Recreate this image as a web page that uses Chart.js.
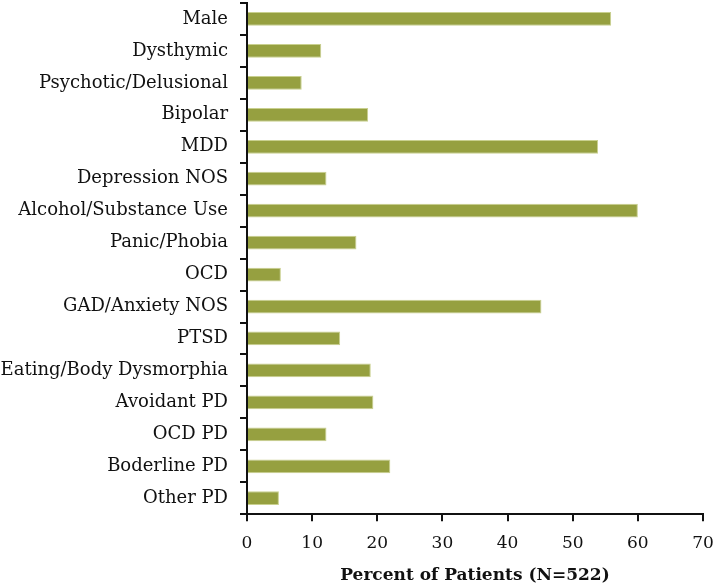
<!DOCTYPE html>
<html>
<head>
<meta charset="utf-8">
<script src="https://cdn.jsdelivr.net/npm/chart.js@4/dist/chart.umd.min.js"></script>
<style>
  body { margin: 0; background: #fff; }
  #wrap { width: 714px; height: 587px; }
</style>
</head>
<body>
<div id="wrap"><canvas id="diagChart"></canvas></div>
<script>
// categories, top to bottom
const categories = [
  'Male', 'Dysthymic', 'Psychotic/Delusional', 'Bipolar', 'MDD',
  'Depression NOS', 'Alcohol/Substance Use', 'Panic/Phobia', 'OCD',
  'GAD/Anxiety NOS', 'PTSD', 'Eating/Body Dysmorphia', 'Avoidant PD',
  'OCD PD', 'Boderline PD', 'Other PD'
];
// percent of patients
const percentValues = [
  55.9, 11.4, 8.4, 18.6, 53.9,
  12.2, 60.0, 16.8, 5.2,
  45.2, 14.3, 19.0, 19.4,
  12.2, 22.0, 4.9
];
const xTicks = [0, 10, 20, 30, 40, 50, 60, 70];

const serif = "'DejaVu Serif', 'Liberation Serif', serif";

const ctx = document.getElementById('diagChart').getContext('2d');
new Chart(ctx, {
  type: 'bar',
  data: {
    labels: categories,
    datasets: [{
      data: percentValues,
      backgroundColor: '#96a040',
      borderColor: '#c9d08f',
      borderWidth: 1,
      categoryPercentage: 1.0,
      barPercentage: 0.43
    }]
  },
  options: {
    indexAxis: 'y',
    responsive: true,
    maintainAspectRatio: false,
    animation: false,
    layout: { padding: { top: 3, right: 0, bottom: 0, left: 0 } },
    scales: {
      x: {
        min: 0,
        max: 70,
        afterBuildTicks: (s) => { s.ticks = xTicks.map(v => ({ value: v })); },
        afterFit: (s) => { s.paddingLeft = 0; s.paddingRight = 11; },
        grid: {
          drawOnChartArea: false,
          drawTicks: true,
          tickLength: 7,
          color: '#111',
          lineWidth: 2
        },
        border: { color: '#111', width: 2 },
        ticks: {
          color: '#111',
          padding: 12,
          maxRotation: 0,
          font: { family: serif, size: 17 }
        },
        title: {
          display: true,
          text: 'Percent of Patients (N=522)',
          color: '#111',
          padding: { top: 0, bottom: 1 },
          font: { family: serif, size: 17, weight: 'bold' }
        }
      },
      y: {
        afterFit: (s) => { s.width = 247; s.paddingTop = 0; s.paddingBottom = 0; },
        grid: {
          offset: true,
          drawOnChartArea: false,
          drawTicks: true,
          tickLength: 7,
          color: '#111',
          lineWidth: 2
        },
        border: { color: '#111', width: 2 },
        ticks: {
          color: '#111',
          padding: 12,
          autoSkip: false,
          font: { family: serif, size: 18 }
        }
      }
    },
    plugins: {
      legend: { display: false },
      tooltip: { enabled: false }
    }
  }
});
</script>
</body>
</html>
